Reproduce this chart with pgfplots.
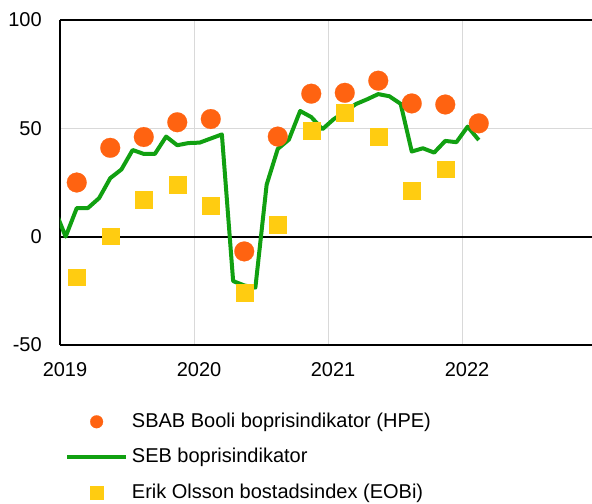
\documentclass[border=0pt]{standalone}
\usepackage{fontspec}
\setmainfont{Liberation Sans}
\usepackage{pgfplots}
\pgfplotsset{compat=1.18}
\definecolor{sbab}{RGB}{255,99,17}
\definecolor{seb}{RGB}{17,160,17}
\definecolor{eobi}{RGB}{255,204,17}
\definecolor{gridgray}{RGB}{217,217,217}
\pgfplotsset{
  markleg/.style={legend image code/.code={\path (0pt,0pt) (29.3pt,0pt); \draw[##1] plot coordinates {(14.65pt,0pt)};}},
  lineleg/.style={legend image code/.code={\draw[##1] (0pt,0pt) -- (29.3pt,0pt);}},
}
\begin{document}
\begin{tikzpicture}
\useasboundingbox (-30pt,-79pt) rectangle (266pt,172.5pt);
\begin{axis}[
  scale only axis, width=266pt, height=162.5pt,
  at={(0,0)}, anchor=south west,
  xmin=2019, xmax=2022.97, ymin=-50, ymax=100,
  axis x line*=box, axis y line*=left,
  axis line style={-, line width=1pt, black},
  major tick length=0pt,
  xtick={2019,2020,2021,2022}, xticklabels={2019,2020,2021,2022},
  ytick={-50,0,50,100}, yticklabels={-50,0,50,100},
  extra y ticks={0}, extra y tick labels={},
  extra y tick style={grid style={black, line width=1pt}},
  xmajorgrids, ymajorgrids,
  grid style={gridgray, line width=0.5pt},
  tick label style={font=\fontsize{10}{12}\selectfont},
  xticklabel style={xshift=2.5pt, yshift=-5.3pt},
  yticklabel style={xshift=-5.6pt},
  /pgf/number format/assume math mode=true,
  legend style={at={(axis description cs:0.0100,-0.197)}, anchor=north west,
    draw=none, fill=none, inner sep=0pt, outer sep=0pt, row sep=4.9pt,
    font=\fontsize{10}{12}\selectfont,
    /tikz/every even column/.append style={column sep=2.4pt}},
  legend cell align=left,
]
\addlegendimage{only marks, mark=*, color=sbab, mark options={line width=0.1pt}, mark size=3.2pt, markleg}
\addlegendentry{SBAB Booli boprisindikator (HPE)}
\addlegendimage{seb, line width=2pt, lineleg}
\addlegendentry{SEB boprisindikator}
\addlegendimage{only marks, mark=square*, color=eobi, mark options={line width=0.1pt}, mark size=3.2pt, markleg}
\addlegendentry{Erik Olsson bostadsindex (EOBi)}

\addplot[forget plot, seb, line width=2pt, line join=round] coordinates {
(2018.958,13) (2019.042,0) (2019.125,13.2) (2019.208,13.2) (2019.292,17.8)
(2019.375,27) (2019.458,31) (2019.542,40) (2019.625,38.2) (2019.708,38.2)
(2019.792,46.2) (2019.875,42.2) (2019.958,43.2) (2020.042,43.4) (2020.125,45.3)
(2020.208,47.2) (2020.292,-20.5) (2020.375,-22.5) (2020.458,-23.5) (2020.542,24)
(2020.625,40.5) (2020.708,44.8) (2020.792,58) (2020.875,55.2) (2020.958,49.6)
(2021.042,54.2) (2021.125,57.6) (2021.208,61.2) (2021.292,63.4) (2021.375,65.8)
(2021.458,64.8) (2021.542,61.3) (2021.625,39.3) (2021.708,40.8) (2021.792,38.8)
(2021.875,44.2) (2021.958,43.6) (2022.042,50.8) (2022.125,44.6)
};
\addplot[forget plot, only marks, mark=square*, mark size=4.2pt, color=eobi, mark options={line width=0.1pt}] coordinates {
(2019.125,-18.7) (2019.375,0.3) (2019.625,17) (2019.875,24.2) (2020.125,14.4)
(2020.375,-25.8) (2020.625,5.4) (2020.875,48.9) (2021.125,57.2) (2021.375,46.2)
(2021.625,21.2) (2021.875,31.2)
};
\addplot[forget plot, only marks, mark=*, mark size=4.95pt, color=sbab, mark options={line width=0.1pt}] coordinates {
(2019.125,25.0) (2019.375,41) (2019.625,46) (2019.875,52.8) (2020.125,54.3)
(2020.375,-6.8) (2020.625,46.2) (2020.875,66) (2021.125,66.4) (2021.375,72)
(2021.625,61.5) (2021.875,61) (2022.125,52.3)
};
\end{axis}
\end{tikzpicture}
\end{document}
